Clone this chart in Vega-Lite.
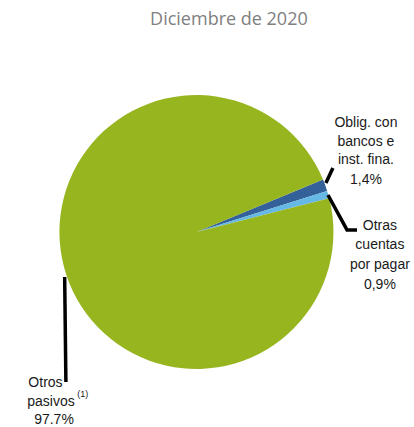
{
  "$schema": "https://vega.github.io/schema/vega-lite/v6.json",
  "width": 414,
  "height": 427,
  "autosize": "none",
  "padding": 0,
  "background": "white",
  "config": {"view": {"stroke": null}},
  "datasets": {
    "slices": [
      {"categoria": "Oblig. con bancos e inst. fina.", "valor": 1.4, "ord": 1},
      {"categoria": "Otras cuentas por pagar", "valor": 0.9, "ord": 2},
      {"categoria": "Otros pasivos", "valor": 97.7, "ord": 3}
    ],
    "leaders": [
      {"grp": "a", "ord": 1, "x": 0.945, "y": 0.358},
      {"grp": "a", "ord": 2, "x": 0.996, "y": 0.467},
      {"grp": "b", "ord": 1, "x": 0.960, "y": 0.270},
      {"grp": "b", "ord": 2, "x": 1.099, "y": 0.015},
      {"grp": "b", "ord": 3, "x": 1.172, "y": 0.015},
      {"grp": "c", "ord": 1, "x": -0.962, "y": -0.328},
      {"grp": "c", "ord": 2, "x": -0.953, "y": -1.095}
    ],
    "labels": [
      {"x": 1.237, "y": 0.796, "t": "Oblig. con"},
      {"x": 1.237, "y": 0.657, "t": "bancos e"},
      {"x": 1.237, "y": 0.526, "t": "inst. fina."},
      {"x": 1.237, "y": 0.380, "t": "1,4%"},
      {"x": 1.339, "y": 0.044, "t": "Otras"},
      {"x": 1.339, "y": -0.095, "t": "cuentas"},
      {"x": 1.339, "y": -0.241, "t": "por pagar"},
      {"x": 1.339, "y": -0.387, "t": "0,9%"},
      {"x": -1.102, "y": -1.102, "t": "Otros"},
      {"x": -1.062, "y": -1.241, "t": "pasivos"},
      {"x": -1.040, "y": -1.372, "t": "97.7%"}
    ],
    "sup": [{"x": -0.830, "y": -1.180, "t": "(1)"}],
    "title": [{"x": 0.237, "y": 1.547, "t": "Diciembre de 2020"}]
  },
  "layer": [
    {
      "data": {"name": "slices"},
      "mark": {"type": "arc", "outerRadius": 137},
      "encoding": {
        "x": {"datum": 0, "type": "quantitative", "scale": {"domain": [-1.434, 1.588], "nice": false, "zero": false}, "axis": null},
        "y": {"datum": 0, "type": "quantitative", "scale": {"domain": [-1.423, 1.693], "nice": false, "zero": false}, "axis": null},
        "theta": {"field": "valor", "type": "quantitative", "stack": true, "scale": {"range": [1.178, 7.461]}},
        "order": {"field": "ord", "type": "quantitative"},
        "color": {
          "field": "categoria", "type": "nominal", "legend": null,
          "scale": {
            "domain": ["Oblig. con bancos e inst. fina.", "Otras cuentas por pagar", "Otros pasivos"],
            "range": ["#34619a", "#67b9e5", "#96b51f"]
          }
        }
      }
    },
    {
      "data": {"name": "leaders"},
      "mark": {"type": "line", "color": "black", "strokeWidth": 3.5, "strokeCap": "butt", "strokeJoin": "miter"},
      "encoding": {
        "x": {"field": "x", "type": "quantitative", "axis": null},
        "y": {"field": "y", "type": "quantitative", "axis": null},
        "detail": {"field": "grp"},
        "order": {"field": "ord", "type": "quantitative"}
      }
    },
    {
      "data": {"name": "labels"},
      "mark": {"type": "text", "font": "Liberation Sans", "fontSize": 14, "color": "#1a1a1a", "align": "center", "baseline": "middle"},
      "encoding": {
        "x": {"field": "x", "type": "quantitative", "axis": null},
        "y": {"field": "y", "type": "quantitative", "axis": null},
        "text": {"field": "t"}
      }
    },
    {
      "data": {"name": "sup"},
      "mark": {"type": "text", "font": "Liberation Sans", "fontSize": 9, "color": "#1a1a1a", "align": "center", "baseline": "middle"},
      "encoding": {
        "x": {"field": "x", "type": "quantitative", "axis": null},
        "y": {"field": "y", "type": "quantitative", "axis": null},
        "text": {"field": "t"}
      }
    },
    {
      "data": {"name": "title"},
      "mark": {"type": "text", "font": "Open Sans", "fontSize": 18, "color": "#808080", "fontWeight": "normal", "align": "center", "baseline": "middle"},
      "encoding": {
        "x": {"field": "x", "type": "quantitative", "axis": null},
        "y": {"field": "y", "type": "quantitative", "axis": null},
        "text": {"field": "t"}
      }
    }
  ]
}
